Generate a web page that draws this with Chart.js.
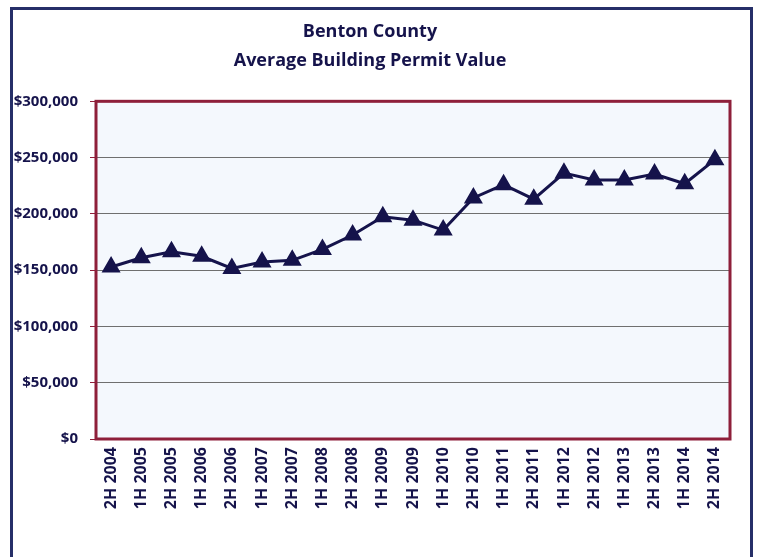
<!DOCTYPE html>
<html>
<head>
<meta charset="utf-8">
<script src="https://cdn.jsdelivr.net/npm/chart.js@4"></script>
<style>
  html, body { margin: 0; padding: 0; background: #ffffff; }
  #frame {
    position: absolute; left: 10px; top: 7px; width: 737px; height: 600px;
    border: 3px solid #262f68; box-sizing: content-box;
  }
  #wrap { position: absolute; left: 0; top: 0; width: 759px; height: 557px; }
</style>
</head>
<body>
<div id="frame"></div>
<div id="wrap"><canvas id="permitChart"></canvas></div>
<script>
const periods = [
  '2H 2004', '1H 2005', '2H 2005', '1H 2006', '2H 2006', '1H 2007', '2H 2007',
  '1H 2008', '2H 2008', '1H 2009', '2H 2009', '1H 2010', '2H 2010', '1H 2011',
  '2H 2011', '1H 2012', '2H 2012', '1H 2013', '2H 2013', '1H 2014', '2H 2014'
];
const avgValues = [
  152800, 161000, 166300, 162300, 151500, 157200, 158700,
  168400, 181200, 197400, 194400, 185600, 214200, 225900,
  213100, 236200, 230200, 230200, 235400, 226800, 248200
];
const yTicks = [0, 50000, 100000, 150000, 200000, 250000, 300000];

const NAVY = '#15134b';
const MAROON = '#8e1f3a';

// light plot background + maroon frame around the chart area
const plotFrame = {
    id: 'plotFrame',
    beforeDraw(chart) {
        const { ctx, chartArea: a } = chart;
        ctx.save();
        ctx.fillStyle = '#f4f8fd';
        ctx.fillRect(a.left, a.top, a.right - a.left, a.bottom - a.top);
        ctx.restore();
    },
    afterDatasetsDraw(chart) {
        const { ctx, chartArea: a } = chart;
        ctx.save();
        ctx.strokeStyle = MAROON;
        ctx.lineWidth = 3;
        ctx.strokeRect(a.left, a.top, a.right - a.left, a.bottom - a.top);
        ctx.restore();
    }
};

const fontFamily = "'Open Sans', Lato, sans-serif";

new Chart(document.getElementById('permitChart'), {
    type: 'line',
    data: {
        labels: periods,
        datasets: [{
            data: avgValues,
            borderColor: NAVY,
            backgroundColor: NAVY,
            borderWidth: 3,
            pointStyle: 'triangle',
            pointRadius: 8,
            pointHoverRadius: 8,
            pointBackgroundColor: NAVY,
            pointBorderColor: NAVY,
            tension: 0
        }]
    },
    options: {
        responsive: true,
        maintainAspectRatio: false,
        animation: false,
        layout: { padding: { top: 17, left: 10, right: 29, bottom: 40 } },
        plugins: {
            legend: { display: false },
            tooltip: { enabled: false },
            title: {
                display: true,
                text: ['Benton County', 'Average Building Permit Value'],
                color: NAVY,
                font: { family: fontFamily, size: 18, weight: 'bold', lineHeight: 1.62 },
                padding: { top: 0, bottom: 26 }
            }
        },
        scales: {
            x: {
                offset: true,
                grid: { display: false },
                border: { display: false },
                ticks: {
                    color: NAVY,
                    minRotation: 90,
                    maxRotation: 90,
                    autoSkip: false,
                    padding: 0,
                    font: { family: fontFamily, size: 16, weight: 'bold' }
                },
                afterFit: s => { s.height = 78; }
            },
            y: {
                min: 0,
                max: 300000,
                afterBuildTicks: s => { s.ticks = yTicks.map(v => ({ value: v })); },
                grid: { color: '#6f6f6f', lineWidth: 1, tickLength: 6, tickColor: MAROON },
                border: { display: false },
                ticks: {
                    color: NAVY,
                    padding: 12,
                    font: { family: fontFamily, size: 15, weight: 'bold' },
                    callback: v => '$' + v.toLocaleString('en-US')
                },
                afterFit: s => { s.width = 86; }
            }
        }
    },
    plugins: [plotFrame]
});
</script>
</body>
</html>
